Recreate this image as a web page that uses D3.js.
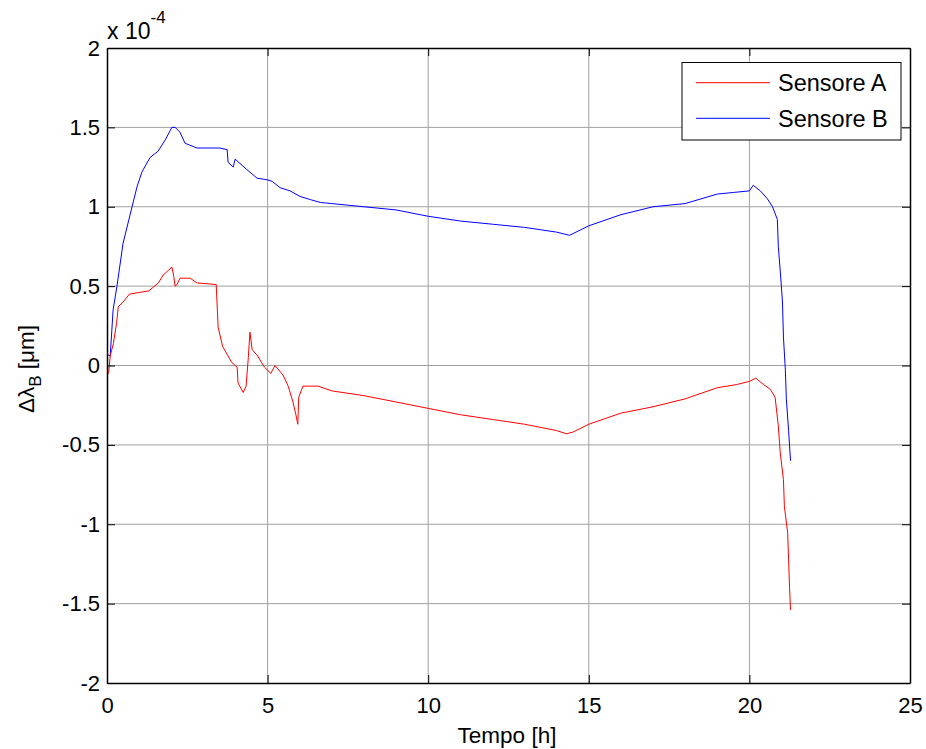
<!DOCTYPE html>
<html>
<head>
<meta charset="utf-8">
<script src="https://cdn.jsdelivr.net/npm/d3@7"></script>
<style>
body { margin: 0; background: #fff; }
svg { display: block; font-family: "Liberation Sans", Arial, sans-serif; }
</style>
</head>
<body>
<svg id="chart" width="926" height="749"></svg>
<script>
// Tick labels
const xTicks = [0, 5, 10, 15, 20, 25];
const yTicks = [-2, -1.5, -1, -0.5, 0, 0.5, 1, 1.5, 2];

// Series (time in hours, value in units of 1e-4 µm)
const sensoreA_t = [0, 0.05, 0.1, 0.2, 0.3, 0.35, 0.5, 0.7, 1.0, 1.3, 1.6, 1.75, 1.86, 2.02, 2.08, 2.12, 2.18, 2.27, 2.43, 2.59, 2.8, 2.81, 3.4, 3.46, 3.6, 3.88, 4.05, 4.08, 4.24, 4.33, 4.4, 4.45, 4.52, 4.69, 4.9, 5.1, 5.23, 5.48, 5.64, 5.79, 5.88, 5.94, 5.97, 6.1, 6.57, 7.0, 8.0, 9.0, 10.0, 11.0, 12.0, 13.0, 14.0, 14.3, 14.5, 15.0, 16.0, 17.0, 18.0, 19.0, 19.6, 20.0, 20.2, 20.44, 20.65, 20.8, 20.9, 20.96, 21.06, 21.09, 21.19, 21.22, 21.25, 21.28];
const sensoreA_v = [-0.04, -0.05, 0.06, 0.14, 0.27, 0.37, 0.40, 0.45, 0.46, 0.47, 0.52, 0.57, 0.59, 0.62, 0.56, 0.50, 0.51, 0.55, 0.55, 0.55, 0.52, 0.52, 0.51, 0.24, 0.12, 0.02, -0.01, -0.11, -0.17, -0.13, 0.05, 0.21, 0.10, 0.06, -0.01, -0.05, 0.0, -0.06, -0.13, -0.23, -0.31, -0.37, -0.20, -0.13, -0.13, -0.16, -0.19, -0.23, -0.27, -0.31, -0.34, -0.37, -0.41, -0.43, -0.42, -0.37, -0.30, -0.26, -0.21, -0.14, -0.12, -0.10, -0.08, -0.12, -0.15, -0.20, -0.38, -0.55, -0.72, -0.89, -1.05, -1.22, -1.40, -1.54];

const sensoreB_t = [0, 0.1, 0.19, 0.31, 0.5, 0.78, 0.94, 1.09, 1.34, 1.59, 1.81, 2.02, 2.12, 2.27, 2.43, 2.8, 3.5, 3.74, 3.77, 3.93, 3.99, 4.35, 4.67, 4.98, 5.14, 5.39, 5.7, 6.01, 6.33, 6.64, 7.0, 8.0, 9.0, 10.0, 11.0, 12.0, 13.0, 14.0, 14.4, 15.0, 16.0, 17.0, 18.0, 19.0, 19.5, 20.0, 20.12, 20.34, 20.56, 20.72, 20.87, 20.9, 20.97, 21.03, 21.06, 21.12, 21.15, 21.22, 21.28];
const sensoreB_v = [0.07, 0.06, 0.35, 0.5, 0.77, 1.0, 1.13, 1.22, 1.31, 1.35, 1.42, 1.5, 1.5, 1.47, 1.40, 1.37, 1.37, 1.36, 1.28, 1.25, 1.30, 1.235, 1.18, 1.17, 1.16, 1.12, 1.10, 1.065, 1.045, 1.027, 1.02, 1.0, 0.98, 0.94, 0.91, 0.89, 0.87, 0.84, 0.82, 0.88, 0.95, 1.0, 1.02, 1.08, 1.09, 1.10, 1.135, 1.10, 1.05, 1.0, 0.92, 0.75, 0.57, 0.40, 0.18, -0.03, -0.21, -0.41, -0.60];

const seriesNames = ["Sensore A", "Sensore B"];
const seriesColors = ["#ff0000", "#0000ff"];

const svg = d3.select("#chart");
const L = 107, R = 910, T = 48, B = 683;
const x = d3.scaleLinear().domain([0, 25]).range([L, R]);
const y = d3.scaleLinear().domain([-2, 2]).range([B, T]);
const fmt = d => String(d).replace("\u2212", "-");

// grid
const g = svg.append("g");
g.selectAll(".gx").data(xTicks.slice(1, -1)).enter().append("line")
  .attr("x1", d => x(d)).attr("x2", d => x(d)).attr("y1", T).attr("y2", B)
  .attr("stroke", "#a0a0a0").attr("stroke-width", 1);
g.selectAll(".gy").data(yTicks.slice(1, -1)).enter().append("line")
  .attr("x1", L).attr("x2", R).attr("y1", d => y(d)).attr("y2", d => y(d))
  .attr("stroke", "#a0a0a0").attr("stroke-width", 1);

// lines
const line = d3.line().x(d => x(d[0])).y(d => y(d[1]));
const dataA = sensoreA_t.map((t, i) => [t, sensoreA_v[i]]);
const dataB = sensoreB_t.map((t, i) => [t, sensoreB_v[i]]);
svg.append("path").datum(dataB).attr("d", line).attr("fill", "none").attr("stroke", seriesColors[1]).attr("stroke-width", 1);
svg.append("path").datum(dataA).attr("d", line).attr("fill", "none").attr("stroke", seriesColors[0]).attr("stroke-width", 1);

// axes (MATLAB style, inward ticks)
const axB = svg.append("g").attr("transform", `translate(0,${B})`)
  .call(d3.axisBottom(x).tickValues(xTicks).tickSizeInner(-8).tickSizeOuter(0).tickPadding(14).tickFormat(fmt));
const axT = svg.append("g").attr("transform", `translate(0,${T})`)
  .call(d3.axisTop(x).tickValues(xTicks).tickSizeInner(-8).tickSizeOuter(0).tickFormat(""));
const axLft = svg.append("g").attr("transform", `translate(${L},0)`)
  .call(d3.axisLeft(y).tickValues(yTicks).tickSizeInner(-8).tickSizeOuter(0).tickPadding(7).tickFormat(fmt));
const axRt = svg.append("g").attr("transform", `translate(${R},0)`)
  .call(d3.axisRight(y).tickValues(yTicks).tickSizeInner(-8).tickSizeOuter(0).tickFormat(""));
[axB, axT, axLft, axRt].forEach(a => {
  a.select(".domain").attr("stroke", "#000").attr("stroke-width", 1.5);
  a.selectAll(".tick line").attr("stroke", "#000");
  a.selectAll("text").attr("font-size", 22).attr("fill", "#000").attr("font-family", "Liberation Sans, Arial, sans-serif");
});

// exponent
const ex = svg.append("text").attr("x", 107).attr("y", 39).attr("font-size", 23).attr("fill", "#000");
ex.append("tspan").text("x 10");
ex.append("tspan").attr("dy", -16).attr("font-size", 17).text("-4");

// axis labels
svg.append("text").attr("x", 507).attr("y", 743).attr("text-anchor", "middle")
  .attr("font-size", 22.5).attr("fill", "#000").text("Tempo [h]");
const yl = svg.append("text").attr("transform", `translate(34,369) rotate(-90)`)
  .attr("text-anchor", "middle").attr("font-size", 22.5).attr("fill", "#000");
yl.append("tspan").text("Δλ");
yl.append("tspan").attr("dy", 7).attr("font-size", 17).text("B");
yl.append("tspan").attr("dy", -7).text(" [μm]");

// legend
const lg = svg.append("g");
lg.append("rect").attr("x", 682).attr("y", 62.5).attr("width", 219).attr("height", 77.5)
  .attr("fill", "#fff").attr("stroke", "#000").attr("stroke-width", 1);
seriesNames.forEach((n, i) => {
  const yy = 82.7 + i * 35.6;
  lg.append("line").attr("x1", 696).attr("x2", 770).attr("y1", yy).attr("y2", yy)
    .attr("stroke", seriesColors[i]).attr("stroke-width", 1);
  lg.append("text").attr("x", 778).attr("y", yy + 8.5).attr("font-size", 23.5).attr("fill", "#000").text(n);
});
</script>
</body>
</html>
